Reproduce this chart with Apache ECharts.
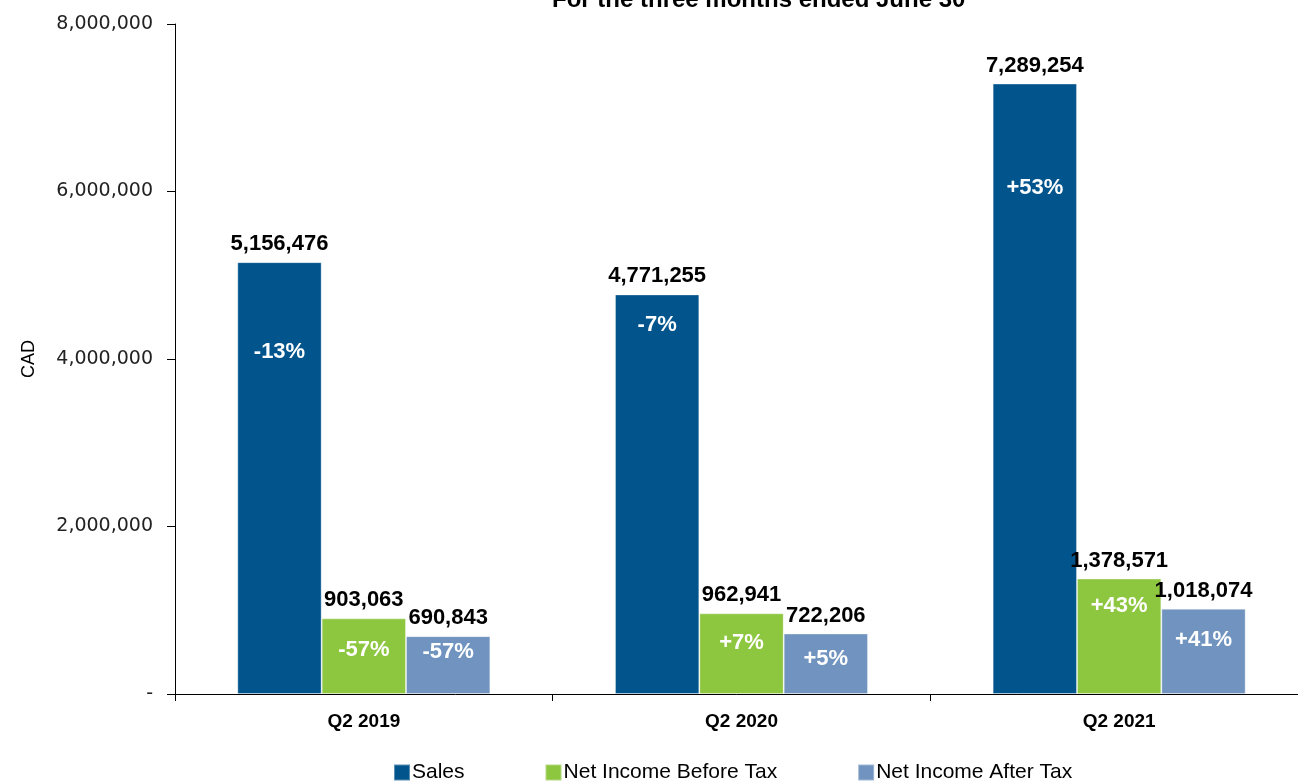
<!DOCTYPE html>
<html>
<head>
<meta charset="utf-8">
<script src="https://cdn.jsdelivr.net/npm/echarts@6/dist/echarts.min.js"></script>
<style>
  html, body { margin: 0; padding: 0; background: #ffffff; }
  #chart { width: 1298px; height: 781px; }
</style>
</head>
<body>
<div id="chart"></div>
<script>
// Quarterly results, three months ended June 30 (CAD)
const categories = ['Q2 2019', 'Q2 2020', 'Q2 2021'];
const seriesNames = ['Sales', 'Net Income Before Tax', 'Net Income After Tax'];

const sales = [5156476, 4771255, 7289254];
const netIncomeBeforeTax = [903063, 962941, 1378571];
const netIncomeAfterTax = [690843, 722206, 1018074];

// Year-over-year change shown inside each bar
const salesChange = ['-13%', '-7%', '+53%'];
const nibtChange = ['-57%', '+7%', '+43%'];
const niatChange = ['-57%', '+5%', '+41%'];

const yTicks = [0, 2000000, 4000000, 6000000, 8000000];

// Layout: how far (px) below each bar top the change label sits
const changeDrop = [
  [90, 31, 104],
  [32, 30, 27],
  [16, 25, 31]
];

const colors = ['#02548c', '#8dc63f', '#7094bf'];
const values = [sales, netIncomeBeforeTax, netIncomeAfterTax];
const changes = [salesChange, nibtChange, niatChange];

const fmt = v => v.toLocaleString('en-US');
const boldFont = '"Liberation Sans", Arial, sans-serif';

const chart = echarts.init(document.getElementById('chart'), null, { renderer: 'canvas' });

const valueSeries = seriesNames.map((name, i) => ({
  name: name,
  type: 'bar',
  xAxisIndex: 0,
  barGap: '0%',
  barCategoryGap: '33%',
  data: values[i],
  itemStyle: { color: colors[i], borderColor: 'rgba(255,255,255,0.35)', borderWidth: 1 },
  label: {
    show: true,
    position: 'top',
    distance: 7,
    formatter: p => fmt(p.value),
    color: '#000',
    fontFamily: boldFont,
    fontWeight: 'bold',
    fontSize: 22
  },
  emphasis: { disabled: true }
}));

// Transparent twin bars on a hidden axis carry the change labels
const changeSeries = seriesNames.map((name, i) => ({
  name: name + ' change',
  type: 'bar',
  xAxisIndex: 1,
  barGap: '0%',
  barCategoryGap: '33%',
  silent: true,
  itemStyle: { color: 'rgba(0,0,0,0)' },
  data: values[i].map((v, j) => ({
    value: v,
    label: { distance: changeDrop[i][j] - 11 }
  })),
  label: {
    show: true,
    position: 'insideTop',
    formatter: p => changes[i][p.dataIndex],
    color: '#ffffff',
    fontFamily: boldFont,
    fontWeight: 'bold',
    fontSize: 22,
    lineHeight: 22
  },
  emphasis: { disabled: true }
}));

chart.setOption({
  animation: false,
  backgroundColor: '#ffffff',
  title: {
    text: 'For the three months ended June 30',
    left: 547,
    top: -17,
    textStyle: { fontFamily: boldFont, fontWeight: 'bold', fontSize: 24, color: '#000' }
  },
  legend: {
    data: seriesNames,
    left: 393,
    top: 762,
    padding: 0,
    itemWidth: 16,
    itemHeight: 16,
    itemGap: 80,
    icon: 'rect',
    textStyle: { fontFamily: '"Liberation Sans", Arial, sans-serif', fontSize: 21, color: '#000', padding: [0, 0, 0, -3] }
  },
  grid: { left: 175, top: 24, width: 1133, height: 670, containLabel: false, outerBoundsMode: 'none' },
  xAxis: [
    {
      type: 'category',
      data: categories,
      axisLine: { lineStyle: { color: '#000', width: 1 } },
      axisTick: { show: true, length: 7, lineStyle: { color: '#000' } },
      axisLabel: {
        margin: 18,
        color: '#000',
        fontFamily: boldFont,
        fontWeight: 'bold',
        fontSize: 19
      }
    },
    { type: 'category', data: categories, show: false }
  ],
  yAxis: {
    type: 'value',
    min: 0,
    max: 8000000,
    interval: 2000000,
    name: 'CAD',
    nameLocation: 'middle',
    nameGap: 137,
    nameRotate: 90,
    nameTextStyle: { fontFamily: '"Liberation Sans", Arial, sans-serif', fontSize: 18, color: '#000' },
    axisLine: { show: true, lineStyle: { color: '#000', width: 1 } },
    axisTick: { show: true, length: 8, lineStyle: { color: '#000' } },
    splitLine: { show: false },
    axisLabel: {
      margin: 22,
      color: '#222',
      fontFamily: '"DejaVu Sans", sans-serif',
      fontSize: 19,
      formatter: v => (yTicks.indexOf(v) === 0 ? '-' : fmt(v))
    }
  },
  series: valueSeries.concat(changeSeries)
});
</script>
</body>
</html>
